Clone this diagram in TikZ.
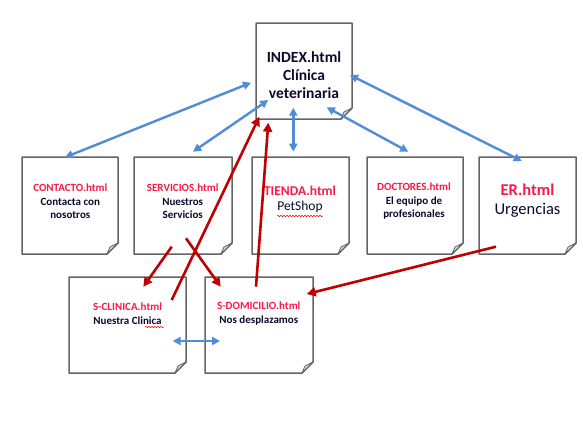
\documentclass[tikz,border=0pt]{standalone}
\usepackage{fontspec}
\setmainfont{Carlito}
\usetikzlibrary{arrows.meta,decorations.pathmorphing}
\definecolor{bluearr}{RGB}{80,140,215}
\definecolor{redarr}{RGB}{192,0,0}
\definecolor{redtxt}{RGB}{250,25,75}
\definecolor{txtc}{RGB}{10,10,45}
\definecolor{edgec}{RGB}{100,100,100}
\tikzset{
  pagebox/.style={draw=none,inner sep=0pt,outer sep=0pt},
  pageline/.style={draw=edgec,line width=1.5pt,fill=white,line join=round},
  foldline/.style={draw=edgec,line width=0.8pt,fill=gray!30,line join=round},
  txtnode/.style={align=center,inner sep=0pt,text=txtc},
  bluelink/.style={draw=bluearr,line width=2.4pt,{Triangle[length=8pt,width=8pt]}-{Triangle[length=8pt,width=8pt]}},
  redlink/.style={draw=redarr,line width=2.6pt,-{Triangle[length=9pt,width=9pt]}},
  squiggle/.style={draw=red,line width=0.5pt,decorate,decoration={snake,segment length=3pt,amplitude=0.7pt}},
}
\newcommand\docpage[1]{%
  \draw[pageline] (#1.north west) -- (#1.north east) -- ([yshift=11pt]#1.south east) -- ([xshift=-11pt]#1.south east) -- (#1.south west) -- cycle;
  \draw[foldline] ([yshift=11pt]#1.south east) -- ([xshift=-8pt,yshift=7pt]#1.south east) -- ([xshift=-11pt]#1.south east) -- cycle;}
\begin{document}
\begin{tikzpicture}[x=1pt,y=-1pt]
\useasboundingbox[fill=white] (0,0) rectangle (583,423);
% page nodes
\node[pagebox,minimum width=96pt,minimum height=96pt] (index) at (304,71) {};
\node[pagebox,minimum width=96pt,minimum height=97pt] (contacto) at (70,205.5) {};
\node[pagebox,minimum width=98pt,minimum height=97pt] (servicios) at (183,205.5) {};
\node[pagebox,minimum width=97pt,minimum height=97pt] (tienda) at (300.5,205.5) {};
\node[pagebox,minimum width=96pt,minimum height=97pt] (doctores) at (415,205.5) {};
\node[pagebox,minimum width=97pt,minimum height=97pt] (er) at (527.5,205.5) {};
\node[pagebox,minimum width=117pt,minimum height=96pt] (sclinica) at (127.5,325) {};
\node[pagebox,minimum width=108pt,minimum height=96pt] (sdomicilio) at (259,325) {};
\docpage{index}
\docpage{contacto}
\docpage{servicios}
\docpage{tienda}
\docpage{doctores}
\docpage{er}
\docpage{sclinica}
\docpage{sdomicilio}
% texts
\node[txtnode,font=\fontsize{15.5}{18.3}\selectfont\bfseries] (tindex) at (304,75) {INDEX.html\\Clínica\\veterinaria};
\node[txtnode,font=\fontsize{11}{13.5}\selectfont\bfseries] (tcontacto) at (70.3,201.5) {\textcolor{redtxt}{CONTACTO.html}\\Contacta con\\nosotros};
\node[txtnode,font=\fontsize{11}{13.5}\selectfont\bfseries] (tservicios) at (182.7,201.5) {\textcolor{redtxt}{SERVICIOS.html}\\Nuestros\\Servicios};
\node[txtnode,font=\fontsize{13.5}{15.5}\selectfont] (ttienda) at (300,199.5) {\textcolor{redtxt}{\bfseries TIENDA.html}\\PetShop};
\node[txtnode,font=\fontsize{11}{13.5}\selectfont\bfseries] (tdoctores) at (414,201.5) {\textcolor{redtxt}{DOCTORES.html}\\El equipo de\\profesionales};
\node[txtnode,font=\fontsize{16.5}{19}\selectfont] (ter) at (527.5,200.5) {\textcolor{redtxt}{\bfseries ER.html}\\Urgencias};
\node[txtnode,font=\fontsize{11}{14}\selectfont\bfseries] (tsclinica) at (127.5,314) {\textcolor{redtxt}{S-CLINICA.html}\\Nuestra Clinica};
\node[txtnode,font=\fontsize{11}{14}\selectfont\bfseries] (tsdomicilio) at (258.8,314) {\textcolor{redtxt}{S-DOMICILIO.html}\\Nos desplazamos};
% spell-check squiggles
\draw[squiggle] (145,327) -- (164,327);
\draw[squiggle] (277,216) -- (323,216);
% connector end points
\coordinate (b1a) at (65,157.3);    \coordinate (b1b) at (251,82.7);
\coordinate (b2a) at (193,151.7);   \coordinate (b2b) at (268.3,100);
\coordinate (b3a) at (293.3,151.7); \coordinate (b3b) at (293.3,107.7);
\coordinate (b4a) at (408.3,151.7); \coordinate (b4b) at (326.7,107.3);
\coordinate (b5a) at (521.7,161);   \coordinate (b5b) at (350,75);
\coordinate (b6a) at (172.7,341);   \coordinate (b6b) at (220,341);
\coordinate (ra1) at (171.7,246.7); \coordinate (ra2) at (143.3,286.7);
\coordinate (rb1) at (186,238.3);   \coordinate (rb2) at (220.7,286.7);
\coordinate (rc1) at (171.7,300);   \coordinate (rc2) at (259.3,116.7);
\coordinate (rd1) at (256,286.7);   \coordinate (rd2) at (268.3,122.7);
\coordinate (re1) at (496,246.7);   \coordinate (re2) at (306.7,294);
% blue links
\draw[bluelink] (b1a) -- (b1b);
\draw[bluelink] (b2a) -- (b2b);
\draw[bluelink] (b3a) -- (b3b);
\draw[bluelink] (b4a) -- (b4b);
\draw[bluelink] (b5a) -- (b5b);
\draw[bluelink] (b6a) -- (b6b);
% red links
\draw[redlink] (ra1) -- (ra2);
\draw[redlink] (rb1) -- (rb2);
\draw[redlink] (rc1) -- (rc2);
\draw[redlink] (rd1) -- (rd2);
\draw[redlink] (re1) -- (re2);
\end{tikzpicture}
\end{document}
